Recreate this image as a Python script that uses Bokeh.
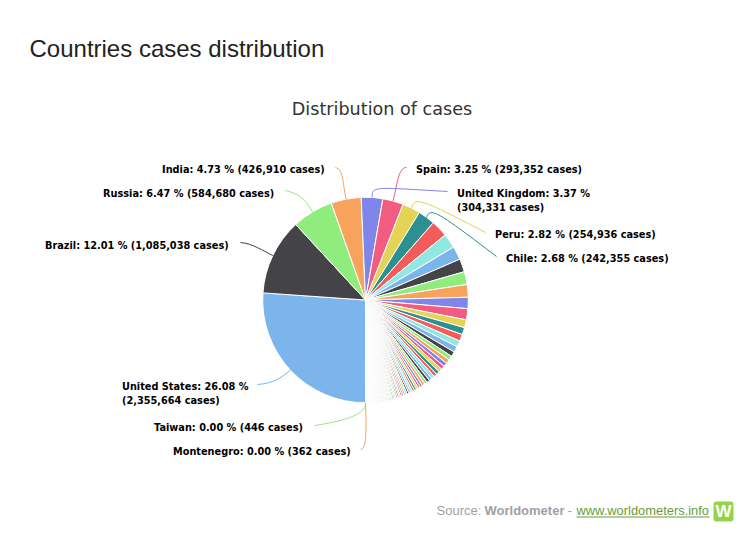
import math
from bokeh.plotting import figure
from bokeh.models import ColumnDataSource, BoxAnnotation
from bokeh.core.properties import value
from bokeh.embed import file_html
from bokeh.resources import INLINE

page_title = "Countries cases distribution"
chart_title = "Distribution of cases"

cases = [2355664, 1085038, 584680, 426910, 304331, 293352, 254936, 242355,
         238499, 204952, 191272, 186493, 181088, 180545, 160093, 157612,
         112306, 101963, 97302, 87369, 83396, 71183, 60550, 58505, 56043,
         52000, 49731, 49658, 45891, 44925, 42785, 41833, 39650, 39133,
         35825, 32227, 31200, 30868, 29471, 29400, 28424, 26000, 25374,
         25222, 24388, 24045, 22000, 21764, 20686, 20244, 17800, 17300,
         17000, 14800, 14568, 14000, 14000, 12800, 12600, 12592, 12400,
         11600, 11300, 10200, 9800, 8700, 8700, 8560, 8274, 7900, 7400,
         7100, 5700, 5700, 5600, 5300, 4900, 4800, 4600, 4500, 4500, 4400,
         4400, 4100, 4100, 3700, 3700, 3600, 3400, 3200, 3100, 2700, 2300,
         2200, 2100, 2000, 2000, 1950, 1900, 1900, 1750, 1700, 1650, 1620,
         1600, 1550, 1500, 1500, 1480, 1450, 1400, 1350, 1320, 1300, 1280,
         1250, 1200, 1180, 1150, 1120, 1100, 1080, 1060, 1030, 1000, 980,
         950, 930, 910, 900, 880, 860, 840, 820, 800, 780, 760, 740, 720,
         700, 680, 660, 640, 620, 600, 580, 560, 540, 520, 500, 480, 460,
         446, 362]
palette = ["#7cb5ec", "#434348", "#90ed7d", "#f7a35c", "#8085e9",
           "#f15c80", "#e4d354", "#2b908f", "#f45b5b", "#91e8e1"]

# slice index, text lines, label left (px), first-line centre (px)
labels = [
    (3, ["India: 4.73 % (426,910 cases)"], 162, 169),
    (2, ["Russia: 6.47 % (584,680 cases)"], 103, 193),
    (1, ["Brazil: 12.01 % (1,085,038 cases)"], 45, 245),
    (0, ["United States: 26.08 %", "(2,355,664 cases)"], 122, 386),
    (len(cases) - 2, ["Taiwan: 0.00 % (446 cases)"], 154, 427),
    (len(cases) - 1, ["Montenegro: 0.00 % (362 cases)"], 173, 451),
    (5, ["Spain: 3.25 % (293,352 cases)"], 416, 169),
    (4, ["United Kingdom: 3.37 %", "(304,331 cases)"], 457, 193),
    (6, ["Peru: 2.82 % (254,936 cases)"], 495, 234),
    (7, ["Chile: 2.68 % (242,355 cases)"], 506, 258),
]
# connector: slice index -> c1, c2, end (page px)
connectors = {
    3: ((342, 182), (343, 169), (335, 167)),
    2: ((306, 199), (298, 193), (285, 190)),
    1: ((262, 250), (252, 243), (240, 242)),
    0: ((280, 378), (272, 383), (257, 384)),
    len(cases) - 2: ((366, 415), (340, 421), (314, 425)),
    len(cases) - 1: ((366, 430), (366, 449), (360, 449)),
    5: ((397, 182), (398, 167), (406, 167)),
    4: ((371, 185), (376, 187), (447, 191)),
    6: ((414, 196), (420, 198), (485, 232)),
    7: ((430, 206), (438, 212), (496, 256)),
}

W, H = 744, 540
CX, CY, R = 365.0, 299.5, 102.8


def py(v):
    return 540 - v


p = figure(width=W, height=H, x_range=(0, 744), y_range=(0, 540),
           output_backend="svg", toolbar_location=None, min_border=0,
           outline_line_color=None, background_fill_color="white")
p.axis.visible = False
p.grid.visible = False

total = sum(cases)
c0, start, end, fill, mids = 180.0, [], [], [], []
for i, v in enumerate(cases):
    c1 = c0 + v / total * 360
    start.append(math.radians(90 - c1))
    end.append(math.radians(90 - c0))
    fill.append(palette[i % len(palette)])
    mids.append(math.radians((c0 + c1) / 2))
    c0 = c1
src = ColumnDataSource(dict(start=start, end=end, fill=fill))
p.wedge(x=CX, y=py(CY), radius=R, start_angle="start", end_angle="end",
        fill_color="fill", line_color="white", line_width=1, source=src)

for i, (c1, c2, e) in connectors.items():
    sx = CX + R * math.sin(mids[i])
    sy = CY - R * math.cos(mids[i])
    p.bezier(x0=[sx], y0=[py(sy)], x1=[e[0]], y1=[py(e[1])],
             cx0=[c1[0]], cy0=[py(c1[1])], cx1=[c2[0]], cy1=[py(c2[1])],
             line_color=palette[i % len(palette)], line_width=1)

LABEL_FONT = value("DejaVu Sans")
for i, lines, lx, ly in labels:
    for k, t in enumerate(lines):
        p.text(x=[lx - 0.5], y=[py(ly + 14 * k)], text=[t], text_font=LABEL_FONT,
               text_font_size="9.75px", text_font_style="bold", text_color="#000000",
               text_baseline="middle", text_align="left")

p.text(x=[29], y=[py(47.5)], text=[page_title], text_font=value("Liberation Sans"),
       text_font_size="24px", text_color="#222222", text_baseline="middle")
p.text(x=[381.5], y=[py(108)], text=[chart_title], text_font=value("DejaVu Sans"),
       text_font_size="17.6px", text_color="#333333", text_baseline="middle",
       text_align="center")

SRC_FONT = value("Liberation Sans")
p.text(x=[436], y=[py(510)], text=["Source:"], text_font=SRC_FONT, text_font_size="13px",
       text_color="#a0a0a8", text_baseline="middle")
p.text(x=[484], y=[py(510)], text=["Worldometer"], text_font=SRC_FONT, text_font_size="13px",
       text_font_style="bold", text_color="#a0a0a8", text_baseline="middle")
p.text(x=[567], y=[py(510)], text=["-"], text_font=SRC_FONT, text_font_size="13px",
       text_color="#a0a0a8", text_baseline="middle")
p.text(x=[576], y=[py(510)], text=["www.worldometers.info"], text_font=SRC_FONT,
       text_font_size="12.9px", text_color="#6b9a3a", text_baseline="middle")
p.line(x=[576, 709], y=[py(516.5), py(516.5)], line_color="#6b9a3a", line_width=1)

p.add_layout(BoxAnnotation(left=713, right=733, bottom=py(521), top=py(501),
                           fill_color="#95d44a", fill_alpha=1, line_color=None,
                           border_radius=3, level="underlay"))
p.text(x=[723], y=[py(511)], text=["W"], text_font=value("Liberation Sans"),
       text_font_size="17px", text_font_style="bold", text_color="white",
       text_baseline="middle", text_align="center")

open("out.html", "w").write(file_html(p, INLINE))
